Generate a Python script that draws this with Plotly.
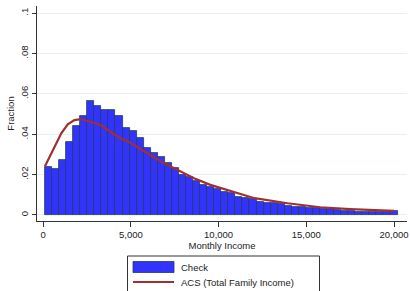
import plotly.graph_objects as go

# ---- data ----
bin_start = 100
bin_width = 402
check_frac = [0.0239, 0.0228, 0.0272, 0.0360, 0.0440, 0.0490, 0.0564, 0.0540, 0.0520, 0.0520,
              0.0490, 0.0429, 0.0417, 0.0380, 0.0330, 0.0308, 0.0286, 0.0256, 0.0231, 0.0198,
              0.0190, 0.0170, 0.0149, 0.0137, 0.0129, 0.0115, 0.0107, 0.0088, 0.0083, 0.0078,
              0.0066, 0.0061, 0.0058, 0.0053, 0.0045, 0.0041, 0.0038, 0.0036, 0.0033, 0.0030,
              0.0029, 0.0025, 0.0021, 0.0020, 0.0016, 0.0016, 0.0015, 0.0014, 0.0013, 0.0019]
bin_centers = [bin_start + bin_width * (i + 0.5) for i in range(len(check_frac))]

acs_income = [95, 1031, 1401, 1777, 2152, 2713, 3274, 3834, 4395, 4860, 5140, 5796, 6726, 7663,
              8599, 9529, 10465, 12052, 13924, 15790, 17500, 20000]
acs_frac = [0.0240, 0.0404, 0.0449, 0.0470, 0.0475, 0.0462, 0.0446, 0.0412, 0.0380, 0.0363, 0.0347,
            0.0313, 0.0264, 0.0223, 0.0182, 0.0149, 0.0124, 0.0083, 0.0058, 0.0038, 0.0029, 0.0020]

x_ticks = [0, 5000, 10000, 15000, 20000]
x_labels = ["0", "5,000", "10,000", "15,000", "20,000"]
y_ticks = [0, 0.02, 0.04, 0.06, 0.08, 0.1]
y_labels = ["0", ".02", ".04", ".06", ".08", ".1"]

BAR_COLOR = "#3333ff"
BAR_EDGE = "#1f3d5c"
LINE_COLOR = "#a03030"
FONT = "Liberation Sans, Arial, sans-serif"

fig = go.Figure()
fig.add_trace(go.Bar(x=bin_centers, y=check_frac, width=bin_width, name="Check",
                     marker=dict(color=BAR_COLOR, line=dict(color=BAR_EDGE, width=0.8)),
                     showlegend=False))
fig.add_trace(go.Scatter(x=acs_income, y=acs_frac, mode="lines", name="ACS (Total Family Income)",
                         line=dict(color=LINE_COLOR, width=2.2), showlegend=False))

fig.update_layout(
    width=410, height=291,
    margin=dict(l=37, r=3, t=6, b=70, autoexpand=False),
    paper_bgcolor="white", plot_bgcolor="white",
    font=dict(family=FONT, size=9.5, color="#222222"),
    bargap=0,
    xaxis=dict(range=[-353, 20740], tickvals=x_ticks, ticktext=x_labels, automargin=False,
               showgrid=False, zeroline=False, showline=True, linecolor="#333333", linewidth=1,
               ticks="outside", ticklen=5, tickcolor="#333333",
               title=dict(text="Monthly Income", font=dict(size=9.5), standoff=2)),
    yaxis=dict(range=[-0.003, 0.1035], tickvals=y_ticks, ticktext=y_labels, tickangle=-90,
               automargin=False,
               showgrid=True, gridcolor="#e6eff1", gridwidth=1, zeroline=False,
               showline=True, linecolor="#333333", linewidth=1,
               ticks="outside", ticklen=4, tickcolor="#333333",
               title=dict(text="Fraction", font=dict(size=9.5), standoff=2)),
)

# legend box drawn below the plot (plot area spans x 37..407, y 6..221 px)
def fx(x): return (x - 37) / 370
def fy(y): return (221 - y) / 215

fig.add_shape(type="rect", xref="paper", yref="paper", x0=fx(127.5), x1=fx(319.5),
              y0=fy(300), y1=fy(256), line=dict(color="#333333", width=1),
              fillcolor="white", layer="above")
fig.add_shape(type="rect", xref="paper", yref="paper", x0=fx(133), x1=fx(174),
              y0=fy(272.5), y1=fy(261.5), line=dict(color=BAR_EDGE, width=0.8),
              fillcolor=BAR_COLOR, layer="above")
fig.add_shape(type="line", xref="paper", yref="paper", x0=fx(133), x1=fx(174),
              y0=fy(282), y1=fy(282), line=dict(color=LINE_COLOR, width=2.2),
              layer="above")
fig.add_annotation(xref="paper", yref="paper", x=fx(179), y=fy(267),
                   text="Check", showarrow=False, xanchor="left", yanchor="middle",
                   font=dict(size=9.5, color="#222222"))
fig.add_annotation(xref="paper", yref="paper", x=fx(179), y=fy(282),
                   text="ACS (Total Family Income)", showarrow=False, xanchor="left", yanchor="middle",
                   font=dict(size=9.5, color="#222222"))

fig.write_html("out.html", config={"displayModeBar": False},
               post_script="document.body.style.margin='0px';document.body.style.overflow='hidden';")
